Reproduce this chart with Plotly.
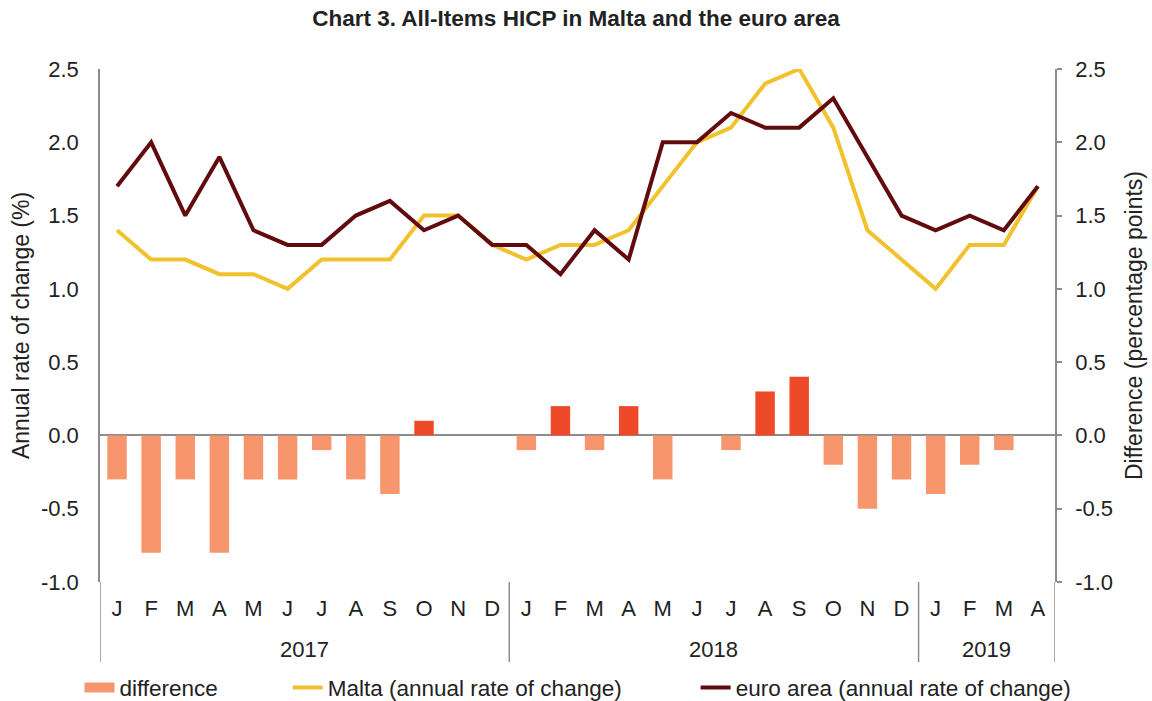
import plotly.graph_objects as go

months = ["J", "F", "M", "A", "M", "J", "J", "A", "S", "O", "N", "D",
          "J", "F", "M", "A", "M", "J", "J", "A", "S", "O", "N", "D",
          "J", "F", "M", "A"]
years = ["2017", "2018", "2019"]
year_lengths = [12, 12, 4]

malta = [1.4, 1.2, 1.2, 1.1, 1.1, 1.0, 1.2, 1.2, 1.2, 1.5, 1.5, 1.3,
         1.2, 1.3, 1.3, 1.4, 1.7, 2.0, 2.1, 2.4, 2.5, 2.1, 1.4, 1.2,
         1.0, 1.3, 1.3, 1.7]
euro_area = [1.7, 2.0, 1.5, 1.9, 1.4, 1.3, 1.3, 1.5, 1.6, 1.4, 1.5, 1.3,
             1.3, 1.1, 1.4, 1.2, 2.0, 2.0, 2.2, 2.1, 2.1, 2.3, 1.9, 1.5,
             1.4, 1.5, 1.4, 1.7]
difference = [-0.3, -0.8, -0.3, -0.8, -0.3, -0.3, -0.1, -0.3, -0.4, 0.1, 0.0, 0.0,
              -0.1, 0.2, -0.1, 0.2, -0.3, 0.0, -0.1, 0.3, 0.4, -0.2, -0.5, -0.3,
              -0.4, -0.2, -0.1, 0.0]

y_tickvals = [-1.0, -0.5, 0.0, 0.5, 1.0, 1.5, 2.0, 2.5]
y_ticktext = ["-1.0", "-0.5", "0.0", "0.5", "1.0", "1.5", "2.0", "2.5"]

x = list(range(len(months)))
FONT = "Liberation Sans, Arial, sans-serif"
TXT = "#222222"
AXIS_GREY = "#8c8c8c"
NEG = "#F7956C"
POS = "#EE4A2A"
MALTA_C = "#F2C12E"
EA_C = "#620B0E"

fig = go.Figure()
fig.add_trace(go.Bar(
    x=x, y=difference, name="difference", yaxis="y2", showlegend=False,
    marker=dict(color=[POS if v > 0 else NEG for v in difference], line=dict(width=0)),
    width=0.57,
))
# legend entry for the bars (rectangle-like swatch)
fig.add_trace(go.Scatter(
    x=[None], y=[None], name="difference", mode="lines",
    line=dict(color=NEG, width=11), legend="legend",
))
fig.add_trace(go.Scatter(
    x=x, y=malta, name="Malta (annual rate of change)", mode="lines",
    line=dict(color=MALTA_C, width=4), legend="legend2",
))
fig.add_trace(go.Scatter(
    x=x, y=euro_area, name="euro area (annual rate of change)", mode="lines",
    line=dict(color=EA_C, width=4), legend="legend3",
))

# year labels and dividers
shapes = []
annotations = []
start = 0
bounds = [-0.5]
for yr, n in zip(years, year_lengths):
    annotations.append(dict(
        x=start + (n - 1) / 2, y=-0.131, xref="x", yref="paper",
        text=yr, showarrow=False, font=dict(family=FONT, size=22, color=TXT),
        xanchor="center", yanchor="middle",
    ))
    start += n
    bounds.append(start - 0.5)
for b in bounds:
    shapes.append(dict(
        type="line", xref="x", yref="paper", x0=b, x1=b, y0=0, y1=-0.156,
        line=dict(color=AXIS_GREY, width=1.5),
    ))

leg_common = dict(orientation="h", y=-0.2066, yanchor="middle",
                  font=dict(family=FONT, size=22.5, color=TXT),
                  bgcolor="rgba(0,0,0,0)", xanchor="left")

fig.update_layout(
    width=1152, height=701,
    margin=dict(l=100, r=97, t=69, b=119, autoexpand=False),
    paper_bgcolor="white", plot_bgcolor="white",
    font=dict(family=FONT, size=22, color=TXT),
    title=dict(
        text="<b>Chart 3. All-Items HICP in Malta and the euro area</b>",
        x=0.5, xanchor="center", y=0.974, yanchor="middle",
        font=dict(family=FONT, size=22.5, color=TXT),
    ),
    xaxis=dict(
        range=[-0.5, len(months) - 0.5], automargin=False,
        tickvals=x, ticktext=months, ticks="", showgrid=False, zeroline=False,
        showline=False, tickfont=dict(size=22), ticklabelstandoff=11,
    ),
    yaxis=dict(
        range=[-1.0, 2.5], tickvals=y_tickvals, ticktext=y_ticktext, automargin=False,
        showgrid=False, zeroline=True, zerolinecolor=AXIS_GREY, zerolinewidth=1.5,
        showline=True, linecolor=AXIS_GREY, linewidth=1.5, ticks="",
        ticklabelstandoff=15,
        title=dict(text="Annual rate of change (%)", font=dict(size=23), standoff=5),
        tickfont=dict(size=22),
    ),
    yaxis2=dict(
        range=[-1.0, 2.5], tickvals=y_tickvals, ticktext=y_ticktext, automargin=False,
        overlaying="y", side="right",
        showgrid=False, zeroline=False, showline=True, linecolor=AXIS_GREY, linewidth=1.5,
        ticks="outside", ticklen=5, tickcolor=AXIS_GREY, tickwidth=1.5,
        ticklabelstandoff=9,
        title=dict(text="Difference (percentage points)", font=dict(size=23), standoff=14),
        tickfont=dict(size=22),
    ),
    legend=dict(x=-0.0215, **leg_common),
    legend2=dict(x=0.1966, **leg_common),
    legend3=dict(x=0.6237, **leg_common),
    shapes=shapes,
    annotations=annotations,
)

fig.write_html("out.html")
